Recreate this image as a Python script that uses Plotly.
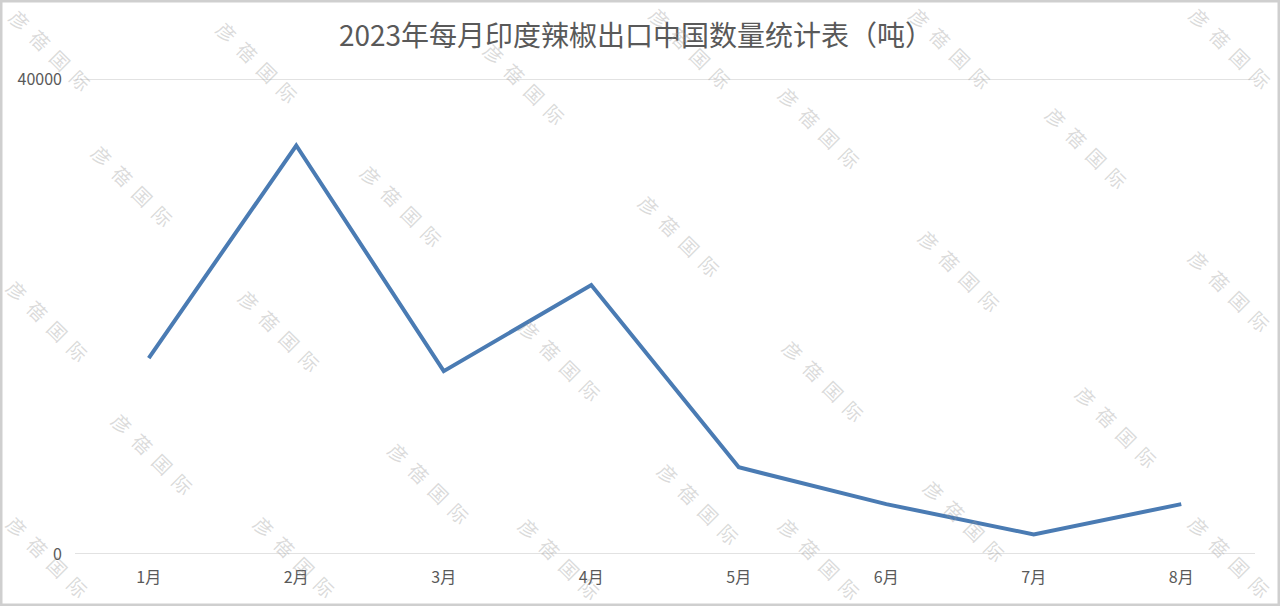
import plotly.graph_objects as go

months = ["1月", "2月", "3月", "4月", "5月", "6月", "7月", "8月"]
export_tons = [16500, 34400, 15400, 22650, 7300, 4200, 1650, 4200]
y_ticks = [0, 40000]
title_text = "2023年每月印度辣椒出口中国数量统计表（吨）"
watermark_chars = "彦蓓国际"
# approximate watermark centres in page pixels (x, y from top)
watermark_xy = [(50, 50), (257, 62), (525, 83), (133, 185), (402, 205),
                (690, 48), (950, 48), (1230, 48), (820, 127), (1087, 147),
                (680, 235), (960, 270), (1230, 290),
                (48, 320), (280, 330), (560, 360), (153, 453), (430, 483),
                (48, 556), (295, 556), (560, 558),
                (824, 380), (1117, 426), (699, 503), (965, 520), (1230, 556), (820, 558)]

W, H = 1280, 606
ML, MR, MT, MB = 75, 25, 79, 52
PW, PH = W - ML - MR, H - MT - MB

fig = go.Figure()
fig.add_trace(go.Scatter(
    x=months, y=export_tons, mode="lines",
    line=dict(color="#4A7BB3", width=4),
    hoverinfo="x+y", showlegend=False,
))

annotations = []
for (px, py) in watermark_xy:
    annotations.append(dict(
        text="\u2002".join(watermark_chars),
        x=(px - ML) / PW, y=(H - MB - py) / PH, xref="paper", yref="paper",
        xanchor="center", yanchor="middle", showarrow=False, textangle=45,
        font=dict(family="Noto Sans CJK SC", size=19, color="rgba(150,150,150,0.35)"),
    ))

shapes = [dict(type="line", xref="paper", yref="y", x0=0, x1=1, y0=v, y1=v,
               line=dict(color="#D9D9D9", width=1.5), layer="below") for v in y_ticks]
shapes.append(dict(type="rect", xref="paper", yref="paper",
                   x0=-(ML - 1) / PW, x1=1 + (MR - 1) / PW,
                   y0=-(MB - 1) / PH, y1=1 + (MT - 1) / PH,
                   line=dict(color="#CFCFCF", width=3), layer="below"))

fig.update_layout(
    width=W, height=H,
    margin=dict(l=ML, r=MR, t=MT, b=MB),
    paper_bgcolor="white", plot_bgcolor="white",
    title=dict(text=title_text, x=636 / W, xanchor="center", y=1 - 36 / H, yanchor="middle",
               font=dict(family="Noto Sans CJK SC", size=28, color="#595959")),
    xaxis=dict(type="category", range=[-0.5, 7.5], showgrid=False, zeroline=False,
               showline=False, ticks="", ticklabelstandoff=12,
               tickfont=dict(family="Noto Sans CJK SC", size=16, color="#595959")),
    yaxis=dict(range=[0, 40000], tickvals=y_ticks, ticktext=[str(v) for v in y_ticks],
               showgrid=False, zeroline=False,
               showline=False, ticks="", ticklabelstandoff=12,
               tickfont=dict(family="Noto Sans CJK SC", size=16, color="#595959")),
    annotations=annotations,
    shapes=shapes,
)

fig.write_html("out.html", config={"displayModeBar": False},
               post_script="document.body.style.margin='0';")
